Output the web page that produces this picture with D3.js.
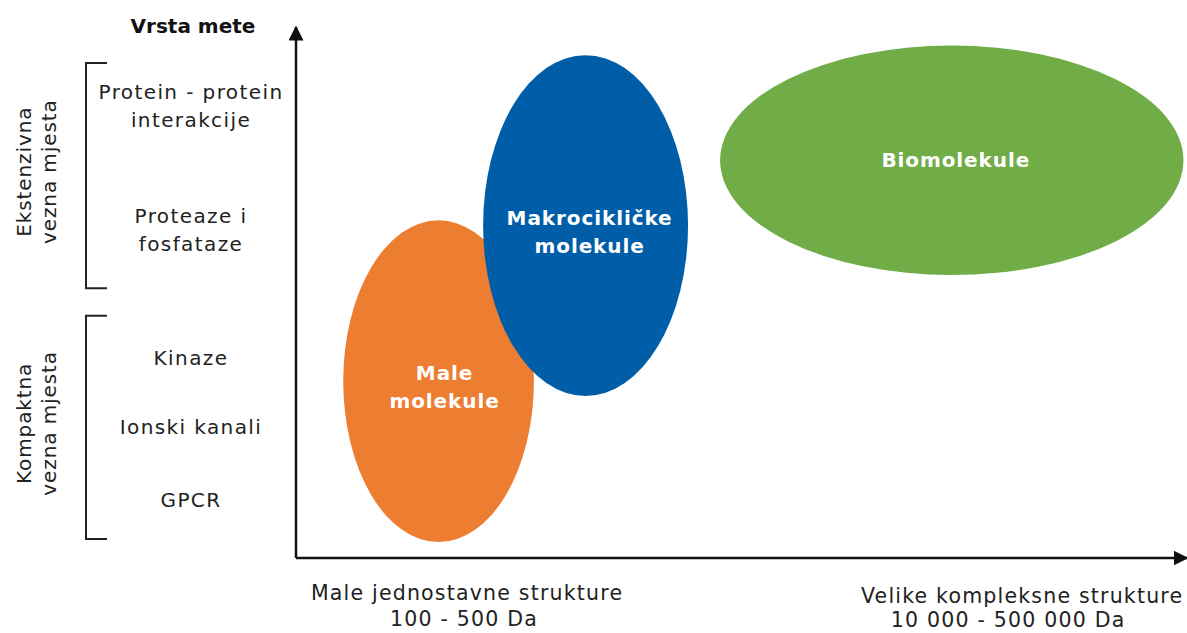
<!DOCTYPE html>
<html>
<head>
<meta charset="utf-8">
<script src="https://cdn.jsdelivr.net/npm/d3@7"></script>
<style>
  html, body { margin: 0; padding: 0; background: #fff; }
  svg { display: block; font-family: "DejaVu Sans", Verdana, sans-serif; }
</style>
</head>
<body>
<script>
// vrste meta (y os), položaj u postocima visine osi
const targetTypes = [
  ["Protein - protein", "interakcije"],
  ["Proteaze i", "fosfataze"],
  ["Kinaze"],
  ["Ionski kanali"],
  ["GPCR"]
];
const targetTypeY = [85.1, 61.8, 37.7, 24.7, 10.9];

// skupine vezna mjesta
const groupNames = [["Ekstenzivna", "vezna mjesta"], ["Kompaktna", "vezna mjesta"]];
const groupFrom = [50.8, 3.6];
const groupTo = [93.2, 45.6];

// klase molekula (elipse)
const classNames = [["Male", "molekule"], ["Makrocikličke", "molekule"], ["Biomolekule"]];
const classX = [16.0, 32.5, 73.6];
const classY = [33.3, 62.6, 74.9];
const classRx = [10.7, 11.5, 26.0];
const classRy = [30.3, 32.1, 21.6];
const classColors = ["#ed7d31", "#005ea8", "#70ad47"];

// oznake x osi
const sizeLabels = [
  ["Male jednostavne strukture", "100 - 500 Da"],
  ["Velike kompleksne strukture", "10 000 - 500 000 Da"]
];
const sizeLabelX = [19.2, 81.5];

const width = 1187;
const height = 633;

const x = d3.scaleLinear().domain([0, 100]).range([296, 1187]);
const y = d3.scaleLinear().domain([0, 100]).range([558, 27]);
// radijusi u pikselima
const rx = (v) => x(v) - x(0);
const ry = (v) => y(0) - y(v);

const svg = d3.select("body").append("svg")
  .attr("width", width)
  .attr("height", height);

svg.append("defs").append("marker")
  .attr("id", "arrow")
  .attr("viewBox", "0 0 10 10")
  .attr("refX", 9)
  .attr("refY", 5)
  .attr("markerWidth", 6)
  .attr("markerHeight", 6)
  .attr("markerUnits", "strokeWidth")
  .attr("orient", "auto")
  .append("path")
  .attr("d", "M0,0 L10,5 L0,10 z")
  .attr("fill", "#111");

// elipse
const blobs = svg.append("g").selectAll("g")
  .data(classNames)
  .join("g");

blobs.append("ellipse")
  .attr("cx", (d, i) => x(classX[i]))
  .attr("cy", (d, i) => y(classY[i]))
  .attr("rx", (d, i) => rx(classRx[i]))
  .attr("ry", (d, i) => ry(classRy[i]))
  .attr("fill", (d, i) => classColors[i]);

blobs.append("text")
  .attr("text-anchor", "middle")
  .attr("fill", "#fff")
  .attr("font-weight", "bold")
  .attr("font-size", 20)
  .attr("letter-spacing", 0.9)
  .attr("transform", (d, i) => `translate(${x(classX[i]) + (i === 0 ? 6 : 4)},${y(classY[i]) - (d.length - 1) * 14 + (d.length > 1 ? 13 : 7)})`)
  .selectAll("tspan")
  .data((d) => d)
  .join("tspan")
  .attr("x", 0)
  .attr("dy", (d, i) => (i === 0 ? 0 : 28))
  .text((d) => d);

// osi
const axes = svg.append("g")
  .attr("stroke", "#111")
  .attr("stroke-width", 2.5)
  .attr("fill", "none");

axes.append("path")
  .attr("d", d3.line()([[x(0), y(0)], [x(0), y(100)]]))
  .attr("marker-end", "url(#arrow)");

axes.append("path")
  .attr("d", d3.line()([[x(0), y(0)], [x(100), y(0)]]))
  .attr("marker-end", "url(#arrow)");

// naslov y osi
svg.append("text")
  .attr("x", 193)
  .attr("y", 33)
  .attr("text-anchor", "middle")
  .attr("font-weight", "bold")
  .attr("font-size", 20)
  .attr("fill", "#111")
  .text("Vrsta mete");

// vrste meta
svg.append("g").selectAll("text")
  .data(targetTypes)
  .join("text")
  .attr("text-anchor", "middle")
  .attr("font-size", 20)
  .attr("letter-spacing", 1.4)
  .attr("fill", "#222")
  .attr("transform", (d, i) => `translate(191,${y(targetTypeY[i]) - (d.length - 1) * 14 + 7})`)
  .selectAll("tspan")
  .data((d) => d)
  .join("tspan")
  .attr("x", 0)
  .attr("dy", (d, i) => (i === 0 ? 0 : 28))
  .text((d) => d);

// zagrade
svg.append("g").selectAll("path")
  .data(groupNames)
  .join("path")
  .attr("d", (d, i) => d3.line()([
    [107, y(groupTo[i])], [86, y(groupTo[i])],
    [86, y(groupFrom[i])], [107, y(groupFrom[i])]
  ]))
  .attr("fill", "none")
  .attr("stroke", "#222")
  .attr("stroke-width", 2);

svg.append("g").selectAll("text")
  .data(groupNames)
  .join("text")
  .attr("text-anchor", "middle")
  .attr("font-size", 20)
  .attr("letter-spacing", 0.9)
  .attr("fill", "#222")
  .attr("transform", (d, i) => `translate(31,${(y(groupFrom[i]) + y(groupTo[i])) / 2 - 4}) rotate(-90)`)
  .selectAll("tspan")
  .data((d) => d)
  .join("tspan")
  .attr("x", 0)
  .attr("dy", (d, i) => (i === 0 ? 0 : 25))
  .text((d) => d);

// oznake x osi
svg.append("g").selectAll("text")
  .data(sizeLabels)
  .join("text")
  .attr("text-anchor", "middle")
  .attr("font-size", 20.5)
  .attr("letter-spacing", 1.2)
  .attr("fill", "#222")
  .attr("transform", (d, i) => `translate(${x(sizeLabelX[i])},${600 + i * 3})`)
  .selectAll("tspan")
  .data((d) => d)
  .join("tspan")
  .attr("x", (d, j) => (j === 0 ? 0 : -3 - 11 * (d.length > 14 ? 1 : 0)))
  .attr("dy", (d, j) => (j === 0 ? 0 : (d.length > 14 ? 24 : 26)))
  .text((d) => d);
</script>
</body>
</html>
